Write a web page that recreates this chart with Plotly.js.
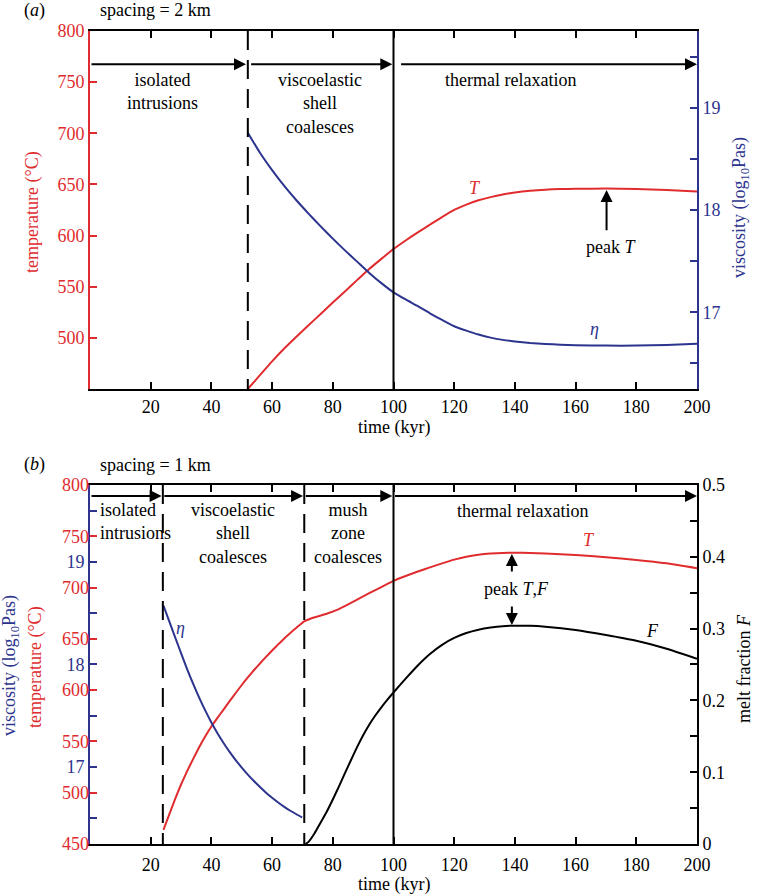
<!DOCTYPE html>
<html>
<head>
<meta charset="utf-8">
<script src="https://cdn.plot.ly/plotly-3.0.1.min.js"></script>
<style>html,body{margin:0;padding:0;background:#fff;}#chart{width:758px;height:896px;}</style>
</head>
<body>
<div id="chart"></div>
<script>
// ---------- data: panel (a), spacing = 2 km ----------
const timeA = [52, 56, 60, 64, 68, 72, 76, 80, 84, 88, 92, 96, 100, 104, 108, 112, 116, 120, 124, 128, 132, 136, 140, 145, 150, 155, 160, 170, 180, 190, 200];
const tempA = [450, 463.5, 477, 489.5, 501, 512.3, 523.3, 534.5, 545.4, 556.4, 567.3, 577.2, 586.8, 595.2, 603.1, 610.6, 618, 625, 630.3, 634.5, 637.6, 640.1, 642, 643.7, 644.8, 645.4, 645.7, 645.9, 645.6, 644.6, 643.1];
const viscA = [18.756, 18.56, 18.39, 18.235, 18.095, 17.965, 17.84, 17.72, 17.605, 17.495, 17.385, 17.285, 17.195, 17.125, 17.06, 16.99, 16.925, 16.863, 16.82, 16.782, 16.752, 16.73, 16.715, 16.7, 16.69, 16.683, 16.678, 16.674, 16.674, 16.68, 16.692];

// ---------- data: panel (b), spacing = 1 km ----------
const timeBT = [24.2, 26, 28, 30, 32, 34, 36, 38, 40, 42, 44, 46, 48, 50, 52, 54, 56, 58, 60, 62, 64, 66, 68, 70.6, 74, 78, 82, 86, 90, 94, 98, 100, 104, 108, 112, 116, 120, 124, 128, 132, 136, 140, 145, 150, 160, 170, 180, 190, 200];
const tempB = [463.7, 478, 493.5, 508, 521, 533, 544.5, 555, 564.5, 573, 581, 589.2, 597.2, 605, 612.4, 619.4, 626, 632.4, 638.6, 644.6, 650.4, 655.8, 660.8, 667, 671, 674.5, 679, 685, 691.5, 697.5, 703.5, 706.5, 711.3, 715.6, 719.7, 723.6, 727.2, 730.1, 732, 733.1, 733.8, 734, 733.8, 733.3, 731.8, 729.5, 726.9, 723.6, 718.8];
const timeBV = [24.2, 26, 28, 30, 32, 34, 36, 38, 40, 42, 44, 46, 48, 50, 52, 54, 56, 58, 60, 62, 64, 66, 68, 69.9];
const viscB = [18.575, 18.43, 18.27, 18.11, 17.955, 17.81, 17.675, 17.55, 17.435, 17.33, 17.235, 17.148, 17.068, 16.995, 16.927, 16.864, 16.805, 16.75, 16.7, 16.654, 16.612, 16.574, 16.54, 16.51];
const timeBF = [71, 72, 74, 76, 78, 80, 82, 84, 86, 88, 90, 92, 94, 96, 98, 100, 104, 108, 112, 116, 120, 124, 128, 132, 136, 140, 145, 150, 160, 170, 180, 190, 200];
const meltB = [0, 0.003, 0.015, 0.03, 0.045, 0.062, 0.08, 0.0986, 0.117, 0.135, 0.1516, 0.1662, 0.179, 0.1904, 0.201, 0.211, 0.2302, 0.2486, 0.2646, 0.2774, 0.287, 0.2938, 0.2984, 0.3014, 0.3034, 0.304, 0.3038, 0.3025, 0.298, 0.291, 0.283, 0.272, 0.258];

// ---------- ticks ----------
const timeTicks = [20, 40, 60, 80, 100, 120, 140, 160, 180, 200];
const tempTicksA = [500, 550, 600, 650, 700, 750, 800];
const tempTicksB = [450, 500, 550, 600, 650, 700, 750, 800];
const viscTicks = [16.5, 17, 17.5, 18, 18.5, 19, 19.5];
const viscTickText = ['', '17', '', '18', '', '19', ''];
const meltTicks = [0, 0.05, 0.1, 0.15, 0.2, 0.25, 0.3, 0.35, 0.4, 0.45, 0.5];
const meltTickText = ['0', '', '0.1', '', '0.2', '', '0.3', '', '0.4', '', '0.5'];

// ---------- phase boundaries ----------
const phaseA = [52, 100];
const phaseB = [24, 70.6, 100];
const phaseLabelsA = ['isolated<br>intrusions', 'viscoelastic<br>shell<br>coalesces', 'thermal relaxation'];
const phaseLabelsB = ['isolated<br>intrusions', 'viscoelastic<br>shell<br>coalesces', 'mush<br>zone<br>coalesces', 'thermal relaxation'];

const RED = 'rgb(224,44,46)';
const BLUE = 'rgb(44,52,142)';
const FONT = 'Liberation Serif';
const f18 = (c) => ({family: FONT, size: 18, color: c || 'black'});

const traces = [
  {x: timeA, y: tempA, xaxis: 'x', yaxis: 'y', mode: 'lines', line: {color: RED, width: 2, shape: 'spline', smoothing: 0.6}},
  {x: timeA, y: viscA, xaxis: 'x', yaxis: 'y2', mode: 'lines', line: {color: BLUE, width: 2, shape: 'spline', smoothing: 0.6}},
  {x: timeBT, y: tempB, xaxis: 'x2', yaxis: 'y3', mode: 'lines', line: {color: RED, width: 2, shape: 'spline', smoothing: 0.4}},
  {x: timeBV, y: viscB, xaxis: 'x2', yaxis: 'y4', mode: 'lines', line: {color: BLUE, width: 2, shape: 'spline', smoothing: 0.5}},
  {x: timeBF, y: meltB, xaxis: 'x2', yaxis: 'y5', mode: 'lines', line: {color: 'black', width: 2, shape: 'spline', smoothing: 0.6}}
];

function xAxis(anchor, extra) {
  return Object.assign({domain: [0, 1], anchor: anchor, range: [0, 200], tickvals: timeTicks, ticks: 'inside', ticklen: 7, tickwidth: 2,
    tickcolor: 'black', showline: true, linewidth: 2, linecolor: 'black', mirror: 'ticks', showgrid: false, zeroline: false,
    tickfont: f18('black')}, extra || {});
}
function yAxis(o) {
  return Object.assign({ticks: 'inside', ticklen: 7, tickwidth: 2, showgrid: false, zeroline: false, showline: true, linewidth: 2}, o);
}

const topDom = [0.5597, 1];
const botDom = [0, 0.4416];

const layout = {
  width: 758, height: 896,
  margin: {l: 90, r: 61, t: 31, b: 52},
  paper_bgcolor: 'white', plot_bgcolor: 'white',
  showlegend: false,
  font: {family: FONT, size: 18, color: 'black'},
  xaxis: xAxis('y'),
  xaxis2: xAxis('y3', {ticklabelstandoff: 3}),
  yaxis: yAxis({domain: topDom, anchor: 'x', range: [450, 800], tickvals: tempTicksA, tickcolor: RED, linecolor: RED, tickfont: f18(RED)}),
  yaxis2: yAxis({overlaying: 'y', side: 'right', anchor: 'x', range: [16.25, 19.75], tickvals: viscTicks, ticktext: viscTickText,
    tickcolor: BLUE, linecolor: BLUE, tickfont: f18(BLUE)}),
  yaxis3: yAxis({domain: botDom, anchor: 'x2', range: [450, 800], tickvals: tempTicksB, tickcolor: RED, showline: false, tickfont: f18(RED)}),
  yaxis4: yAxis({overlaying: 'y3', side: 'left', anchor: 'x2', range: [16.25, 19.75], tickvals: viscTicks, ticktext: viscTickText,
    tickcolor: BLUE, linecolor: BLUE, tickfont: f18(BLUE)}),
  yaxis5: yAxis({overlaying: 'y3', side: 'right', anchor: 'x2', range: [0, 0.5], tickvals: meltTicks, ticktext: meltTickText,
    tickcolor: 'black', linecolor: 'black', tickfont: f18('black')}),
  shapes: [],
  annotations: []
};

// vertical phase boundary lines
const DASH = '19px,10px';
layout.shapes.push({type: 'line', xref: 'x', yref: 'y domain', x0: phaseA[0], x1: phaseA[0], y0: 1, y1: 0, line: {color: 'black', width: 2, dash: DASH}});
layout.shapes.push({type: 'line', xref: 'x', yref: 'y domain', x0: phaseA[1], x1: phaseA[1], y0: 1, y1: 0, line: {color: 'black', width: 2}});
layout.shapes.push({type: 'line', xref: 'x2', yref: 'y3 domain', x0: phaseB[0], x1: phaseB[0], y0: 1, y1: 0, line: {color: 'black', width: 2, dash: DASH}});
layout.shapes.push({type: 'line', xref: 'x2', yref: 'y3 domain', x0: phaseB[1], x1: phaseB[1], y0: 1, y1: 0, line: {color: 'black', width: 2, dash: DASH}});
layout.shapes.push({type: 'line', xref: 'x2', yref: 'y3 domain', x0: phaseB[2], x1: phaseB[2], y0: 1, y1: 0, line: {color: 'black', width: 2}});

const ann = layout.annotations;
function arrow(xr, yr, x0, x1, y0, y1) {
  ann.push({xref: xr, yref: yr, axref: xr, ayref: yr, x: x1, y: y1, ax: x0, ay: y0, text: '', showarrow: true,
    arrowhead: 2, arrowsize: 1.2, arrowwidth: 2, arrowcolor: 'black', standoff: 0, startstandoff: 0});
}
function txt(xr, yr, x, y, text, opts) {
  ann.push(Object.assign({xref: xr, yref: yr, x: x, y: y, text: text, showarrow: false, font: f18('black'), xanchor: 'center', yanchor: 'middle'}, opts || {}));
}

// phase arrows (a)
const arrowYA = 767.5;
arrow('x', 'y', 0, phaseA[0] - 0.6, arrowYA, arrowYA);
arrow('x', 'y', phaseA[0] + 0.6, phaseA[1] - 0.4, arrowYA, arrowYA);
arrow('x', 'y', phaseA[1] + 2, 200, arrowYA, arrowYA);
// phase arrows (b)
const arrowYB = 789.3;
arrow('x2', 'y3', 0, phaseB[0] - 0.4, arrowYB, arrowYB);
arrow('x2', 'y3', phaseB[0], phaseB[1] - 0.4, arrowYB, arrowYB);
arrow('x2', 'y3', phaseB[1], phaseB[2] - 0.4, arrowYB, arrowYB);
arrow('x2', 'y3', phaseB[2], 200, arrowYB, arrowYB);

// phase labels (a)
txt('x', 'y', 23.9, 741, phaseLabelsA[0]);
txt('x', 'y', 75.9, 729, phaseLabelsA[1]);
txt('x', 'y', 138.7, 752, phaseLabelsA[2]);
// phase labels (b)
txt('x2', 'y3', 2.5, 764, phaseLabelsB[0], {xanchor: 'left', align: 'left'});
txt('x2', 'y3', 47, 752.7, phaseLabelsB[1]);
txt('x2', 'y3', 84.9, 752.7, phaseLabelsB[2]);
txt('x2', 'y3', 142.6, 774.7, phaseLabelsB[3]);

// curve labels (a)
txt('x', 'y', 126.7, 646.6, '<i>T</i>', {font: f18(RED)});
txt('x', 'y', 166.2, 509, '<i>η</i>', {font: f18(BLUE)});
txt('x', 'y', 171.7, 589, 'peak <i>T</i>');
arrow('x', 'y', 170.2, 170.2, 603.6, 644.6);
// curve labels (b)
txt('x2', 'y3', 29.7, 660.6, '<i>η</i>', {font: f18(BLUE)});
txt('x2', 'y3', 164.5, 746.4, '<i>T</i>', {font: f18(RED)});
txt('x2', 'y3', 185.3, 658, '<i>F</i>');
txt('x2', 'y3', 140.4, 698.6, 'peak <i>T</i>,<i>F</i>');
arrow('x2', 'y3', 139, 139, 714.2, 732.7);
arrow('x2', 'y3', 139, 139, 683, 663.5);

// panel labels
txt('paper', 'paper', -0.112, 1.0258, '(<i>a</i>)', {xanchor: 'left'});
txt('paper', 'paper', 0.0132, 1.0258, 'spacing = 2 km', {xanchor: 'left'});
txt('paper', 'paper', -0.112, 0.4662, '(<i>b</i>)', {xanchor: 'left'});
txt('paper', 'paper', 0.0132, 0.4662, 'spacing = 1 km', {xanchor: 'left'});

// axis titles
txt('paper', 'paper', -0.0939, 0.7774, 'temperature (°C)', {textangle: -90, font: f18(RED)});
txt('paper', 'paper', 1.0725, 0.7823, 'viscosity (log<sub>10</sub>Pas)', {textangle: -90, font: f18(BLUE)});
txt('paper', 'paper', 0.5, 0.5117, 'time (kyr)');
txt('paper', 'paper', -0.130, 0.219, 'viscosity (log<sub>10</sub>Pas)', {textangle: -90, font: f18(BLUE)});
txt('paper', 'paper', -0.0906, 0.2177, 'temperature (°C)', {textangle: -90, font: f18(RED)});
txt('paper', 'paper', 1.0774, 0.2165, 'melt fraction <i>F</i>', {textangle: -90});
txt('paper', 'paper', 0.5, -0.05, 'time (kyr)');

Plotly.newPlot('chart', traces, layout, {displayModeBar: false, staticPlot: true});
</script>
</body>
</html>
